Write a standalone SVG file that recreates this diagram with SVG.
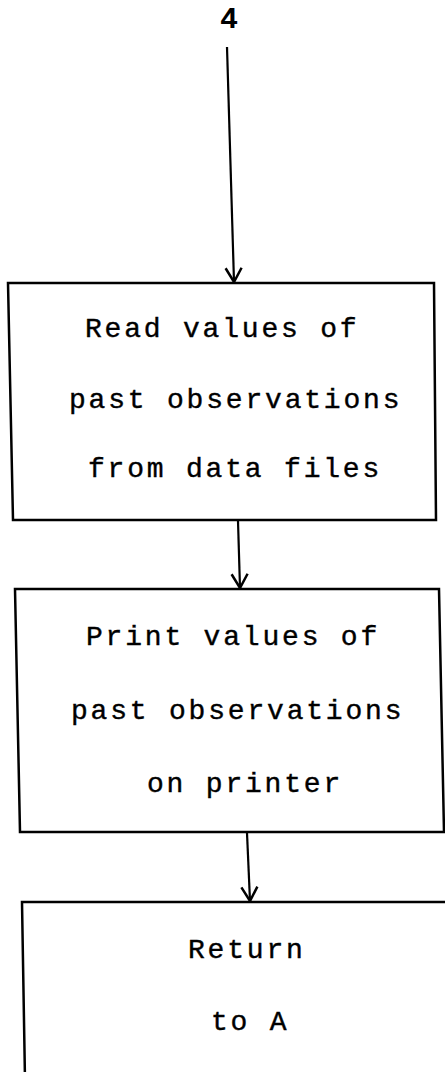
<svg xmlns="http://www.w3.org/2000/svg" width="445" height="1072" viewBox="0 0 445 1072">
<style>
.box{fill:#fff;stroke:#000;stroke-width:2.5;stroke-linejoin:miter}
.lbl{font-family:"Liberation Mono","DejaVu Sans Mono",monospace;font-size:28px;letter-spacing:2.8px;fill:#000;stroke:#000;stroke-width:0.4}
.edge{stroke:#000;stroke-width:2.2;fill:none}
.num{font-family:"Liberation Mono","DejaVu Sans Mono",monospace;font-size:30px;font-weight:bold;fill:#000}
</style>
<defs>
<marker id="arr" viewBox="0 0 20 20" refX="19" refY="10" markerWidth="20" markerHeight="20" markerUnits="userSpaceOnUse" orient="auto">
<path d="M5,2 L19,10 L5,18" fill="none" stroke="#000" stroke-width="2.5"/>
</marker>
</defs>
<rect width="445" height="1072" fill="#fff"/>
<text class="num" x="229" y="28" text-anchor="middle">4</text>
<g id="n1">
<path class="box" d="M8,283 L434,283 L436,520 L13,520 Z"/>
<text class="lbl" x="85" y="337">Read values of</text>
<text class="lbl" x="69" y="408">past observations</text>
<text class="lbl" x="88" y="477">from data files</text>
</g>
<g id="n2">
<path class="box" d="M15,589 L439,589 L444,832 L20,832 Z"/>
<text class="lbl" x="86" y="645">Print values of</text>
<text class="lbl" x="71" y="719">past observations</text>
<text class="lbl" x="147" y="792">on printer</text>
</g>
<g id="n3">
<path class="box" d="M22,902 L450,902 L450,1080 L25,1080 Z"/>
<text class="lbl" x="188" y="958">Return</text>
<text class="lbl" x="211" y="1030">to A</text>
</g>
<g id="connectors">
<path class="edge" d="M227,47 L234,282" marker-end="url(#arr)"/>
<path class="edge" d="M238,521 L240,588" marker-end="url(#arr)"/>
<path class="edge" d="M247,833 L250,901" marker-end="url(#arr)"/>
</g>
</svg>
